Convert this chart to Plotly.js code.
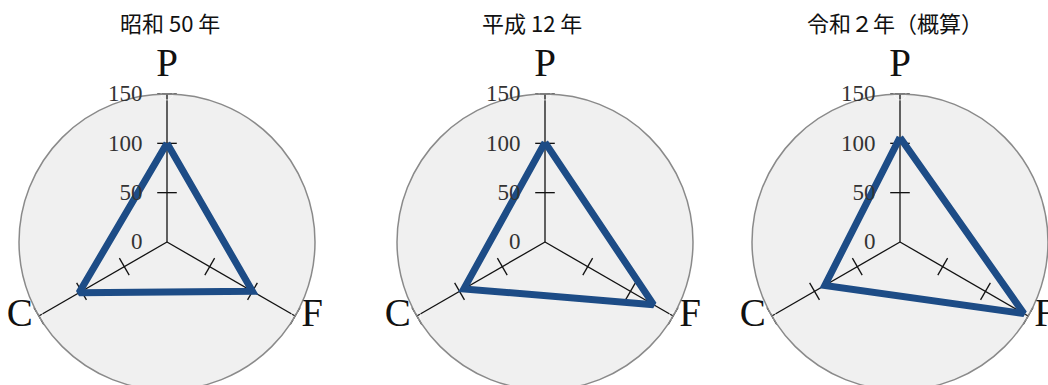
<!DOCTYPE html>
<html>
<head>
<meta charset="utf-8">
<script src="https://cdn.plot.ly/plotly-3.0.1.min.js"></script>
<style>
  html, body { margin: 0; padding: 0; overflow: hidden; background: #fff; }
  #pfc { width: 1048px; height: 400px; }
</style>
</head>
<body>
<div id="pfc"></div>
<script>
// PFCバランス（P=たんぱく質, F=脂質, C=炭水化物）
var axes = ['P', 'F', 'C'];
var titles = ['昭和 50 年', '平成 12 年', '令和２年（概算）'];
var showa50 = [100, 100, 103];
var heisei12 = [101, 127, 95];
var reiwa2 = [106, 145, 88];
var radialTicks = [0, 50, 100, 150];
var crossTicks = [50, 100, 150];

var series = [showa50, heisei12, reiwa2];
var W = 1048, H = 400;
// 各パネルの円の中心（px）と半径
var centers = [167, 545, 900];
var cy = 242, rad = 148;
var titleX = [170, 532, 895];
var rMax = radialTicks[radialTicks.length - 1];

var serif = '"Liberation Serif", "DejaVu Serif", serif';
var data = [];
var layout = {
  width: W, height: H,
  margin: { l: 0, r: 0, t: 0, b: 0 },
  paper_bgcolor: '#fff',
  showlegend: false,
  annotations: []
};

series.forEach(function (vals, i) {
  var key = i === 0 ? 'polar' : 'polar' + (i + 1);

  // 軸上の目盛り（十字）
  var tr = [], tt = [], ta = [];
  axes.forEach(function (a, k) {
    crossTicks.forEach(function (v) {
      tr.push(v); tt.push(a); ta.push(k * 120);
    });
  });
  data.push({
    type: 'scatterpolar', subplot: key, mode: 'markers',
    r: tr, theta: tt, hoverinfo: 'skip',
    marker: { symbol: 'line-ew', size: 14, angle: ta, color: '#111',
      line: { color: '#111', width: 1.3 } }
  });

  // 軸名 P / F / C（軸の端に置く）
  data.push({
    type: 'scatterpolar', subplot: key, mode: 'markers+text', cliponaxis: false,
    r: axes.map(function () { return rMax; }), theta: axes, text: axes,
    textposition: ['top center', 'middle right', 'middle left'],
    textfont: { family: serif, size: 39, color: '#111' },
    marker: { size: [12, 8, 8], color: 'rgba(0,0,0,0)' },
    hoverinfo: 'skip'
  });

  // PFC 三角形
  data.push({
    type: 'scatterpolar', subplot: key, mode: 'lines',
    r: vals.concat([vals[0]]), theta: axes.concat([axes[0]]),
    line: { color: '#1d4c86', width: 7 }
  });

  var x0 = (centers[i] - rad) / W, x1 = (centers[i] + rad) / W;
  var y0 = (H - (cy + rad)) / H, y1 = (H - (cy - rad)) / H;
  layout[key] = {
    domain: { x: [x0, x1], y: [y0, y1] },
    bgcolor: '#f0f0f0',
    radialaxis: {
      range: [0, rMax], tickvals: radialTicks, angle: 90, tickangle: 90,
      side: 'counterclockwise',
      showgrid: false, showline: false,
      ticks: 'outside', ticklen: 16, tickcolor: 'rgba(0,0,0,0)',
      tickfont: { family: serif, size: 23, color: '#333' }
    },
    angularaxis: {
      type: 'category', categoryarray: axes,
      rotation: 90, direction: 'clockwise',
      showline: true, linecolor: '#8a8a8a', linewidth: 1.5,
      showgrid: true, gridcolor: '#111', gridwidth: 1.3,
      showticklabels: false, ticks: ''
    }
  };

  layout.annotations.push({
    text: titles[i], xref: 'paper', yref: 'paper',
    x: titleX[i] / W, y: (H - 22) / H, xanchor: 'center', yanchor: 'middle',
    showarrow: false,
    font: { family: '"Noto Sans CJK JP", "Noto Sans", sans-serif', size: 22, color: '#111' }
  });
});

Plotly.newPlot('pfc', data, layout, { staticPlot: true });
</script>
</body>
</html>
